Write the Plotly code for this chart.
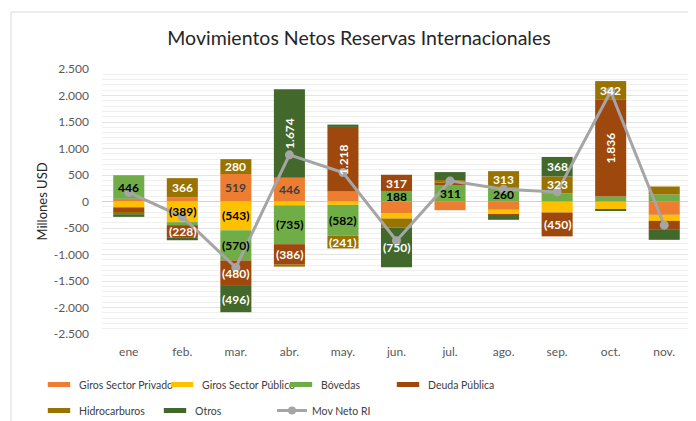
import plotly.graph_objects as go

MONTHS = ["ene", "feb.", "mar.", "abr.", "may.", "jun.", "jul.", "ago.", "sep.", "oct.", "nov."]

GIROS_PRIVADO = [50, 75, 519, 446, 189, -226, -164, -157, 0, 0, -252]
GIROS_PUBLICO = [-110, -389, -543, -70, -63, -94, 0, -82, -208, -145, -113]
BOVEDAS = [446, -57, -570, -735, -582, 188, 311, 260, 150, 94, 132]
DEUDA_PUBLICA = [-100, -228, -480, -386, 1218, 317, 44, -31, -450, 1836, -157]
HIDROCARBUROS = [-30, 366, 280, -38, -241, -170, 50, 313, 323, 342, 151]
OTROS = [-50, -57, -496, 1674, 44, -750, 150, -75, 368, -30, -201]
MOV_NETO_RI = [170, -290, -1245, 880, 547, -740, 389, 232, 181, 2075, -447]

Y_TICKS = [-2500, -2000, -1500, -1000, -500, 0, 500, 1000, 1500, 2000, 2500]
Y_TICK_LABELS = ["-2.500", "-2.000", "-1.500", "-1.000", "-500", "0",
                 "500", "1.000", "1.500", "2.000", "2.500"]

LABELED = {
    "Giros Sector Privado": ["mar.", "abr."],
    "Giros Sector Público": ["feb.", "mar."],
    "Bóvedas": ["ene", "mar.", "abr.", "may.", "jun.", "jul.", "ago."],
    "Deuda Pública": ["feb.", "mar.", "abr.", "may.", "jun.", "sep.", "oct."],
    "Hidrocarburos": ["feb.", "mar.", "may.", "ago.", "sep.", "oct."],
    "Otros": ["mar.", "abr.", "jun.", "sep."],
}
ROTATED = {
    "Deuda Pública": ["may.", "oct."],
    "Otros": ["abr."],
}

SERIES = [
    ("Giros Sector Privado", GIROS_PRIVADO, "#ED7D31", "#404040"),
    ("Giros Sector Público", GIROS_PUBLICO, "#FFC000", "#000000"),
    ("Bóvedas", BOVEDAS, "#70AD47", "#000000"),
    ("Deuda Pública", DEUDA_PUBLICA, "#9E480E", "#FFFFFF"),
    ("Hidrocarburos", HIDROCARBUROS, "#997300", "#FFFFFF"),
    ("Otros", OTROS, "#43682B", "#FFFFFF"),
]


def fmt(v):
    s = f"{abs(v):,}".replace(",", ".")
    return f"({s})" if v < 0 else s


FONT = "Lato"
LEGEND_FONT = "Lato"

# the page body adds an 8px offset; figure is sized to the visible window
W, H = 688, 413
PL, PR, PT, PB = 94, 683, 61, 326
PW, PH = PR - PL, PB - PT

fig = go.Figure()

pos_base = [0] * len(MONTHS)
neg_base = [0] * len(MONTHS)
annotations = []

for name, vals, color, tcolor in SERIES:
    for i, (m, v) in enumerate(zip(MONTHS, vals)):
        base = pos_base[i] if v >= 0 else neg_base[i]
        if m in LABELED.get(name, []):
            annotations.append(dict(
                x=m, y=base + v / 2, xref="x", yref="y", text=fmt(v),
                textangle=-90 if m in ROTATED.get(name, []) else 0,
                showarrow=False,
                font=dict(family=FONT, size=12, color=tcolor, weight="bold")))
        if v >= 0:
            pos_base[i] += v
        else:
            neg_base[i] += v
    fig.add_trace(go.Bar(
        x=MONTHS, y=vals, name=name, marker=dict(color=color, line=dict(width=0)),
        showlegend=False, hoverinfo="skip",
    ))

fig.add_trace(go.Scatter(
    x=MONTHS, y=MOV_NETO_RI, name="Mov Neto RI", mode="lines+markers",
    line=dict(color="#A5A5A5", width=3), marker=dict(color="#A5A5A5", size=9),
    showlegend=False, hoverinfo="skip",
))

# legend entries (row 1 -> legend, row 2 -> legend2)
ROW1 = [0, 1, 2, 3]
ROW2 = [4, 5]
WIDTHS1 = [78, 74, 62, 90]
WIDTHS2 = [71, 72]
for k, idx in enumerate(ROW1):
    name, _, color, _ = SERIES[idx]
    fig.add_trace(go.Scatter(
        x=[None], y=[None], name=name, mode="markers",
        marker=dict(symbol="line-ew", size=16, color=color,
                    line=dict(color=color, width=5)),
        legend="legend", legendwidth=WIDTHS1[k], hoverinfo="skip"))
for k, idx in enumerate(ROW2):
    name, _, color, _ = SERIES[idx]
    fig.add_trace(go.Scatter(
        x=[None], y=[None], name=name, mode="markers",
        marker=dict(symbol="line-ew", size=16, color=color,
                    line=dict(color=color, width=5)),
        legend="legend2", legendwidth=WIDTHS2[k], hoverinfo="skip"))
fig.add_trace(go.Scatter(
    x=[None], y=[None], name="Mov Neto RI", mode="lines+markers",
    line=dict(color="#A5A5A5", width=3), marker=dict(color="#A5A5A5", size=8),
    legend="legend2", legendwidth=90, hoverinfo="skip"))

fig.update_layout(
    width=W, height=H,
    margin=dict(l=PL, r=W - PR, t=PT, b=H - PB, autoexpand=False),
    paper_bgcolor="white", plot_bgcolor="white",
    barmode="relative", bargap=0.42,
    title=dict(text="Movimientos Netos Reservas Internacionales",
               x=351 / W, xref="container", xanchor="center",
               y=1 - 30 / H, yref="container", yanchor="middle",
               font=dict(family=FONT, size=19.5, color="#262626")),
    font=dict(family=FONT, size=12, color="#595959"),
    xaxis=dict(type="category", range=[-0.5, 10.5], showgrid=False, zeroline=False,
               showline=False, ticks="",
               tickfont=dict(family=FONT, size=12, color="#595959"),
               ticklabelstandoff=9),
    yaxis=dict(range=[-2500, 2500], tickvals=Y_TICKS, ticktext=Y_TICK_LABELS,
               showgrid=True, gridcolor="#E4E4E4", gridwidth=1,
               minor=dict(dtick=100, showgrid=True, gridcolor="#F0F0F0", gridwidth=1),
               zeroline=True, zerolinecolor="#D0D0D0", zerolinewidth=1,
               showline=False, ticks="",
               tickfont=dict(family=FONT, size=12, color="#595959"),
               ticklabelstandoff=12,
               title=dict(text="Millones USD", standoff=3,
                          font=dict(family=FONT, size=13, color="#262626"))),
    legend=dict(orientation="h", x=(31 - PL) / PW, xanchor="left",
                y=-(362 - PB) / PH, yanchor="top",
                font=dict(family=LEGEND_FONT, size=10.5, color="#404040"),
                itemclick=False, bgcolor="rgba(0,0,0,0)"),
    legend2=dict(orientation="h", x=(31 - PL) / PW, xanchor="left",
                 y=-(388 - PB) / PH, yanchor="top",
                 font=dict(family=LEGEND_FONT, size=10.5, color="#404040"),
                 itemclick=False, bgcolor="rgba(0,0,0,0)"),
    annotations=annotations,
    shapes=[dict(type="rect", xref="paper", yref="paper",
                 x0=(3 - PL) / PW, x1=(W + 10 - PL) / PW,
                 y0=(PB - H - 10) / PH, y1=(PB - 4) / PH,
                 line=dict(color="#D9D9D9", width=1), fillcolor="rgba(0,0,0,0)",
                 layer="below")],
)

fig.write_html("out.html")
